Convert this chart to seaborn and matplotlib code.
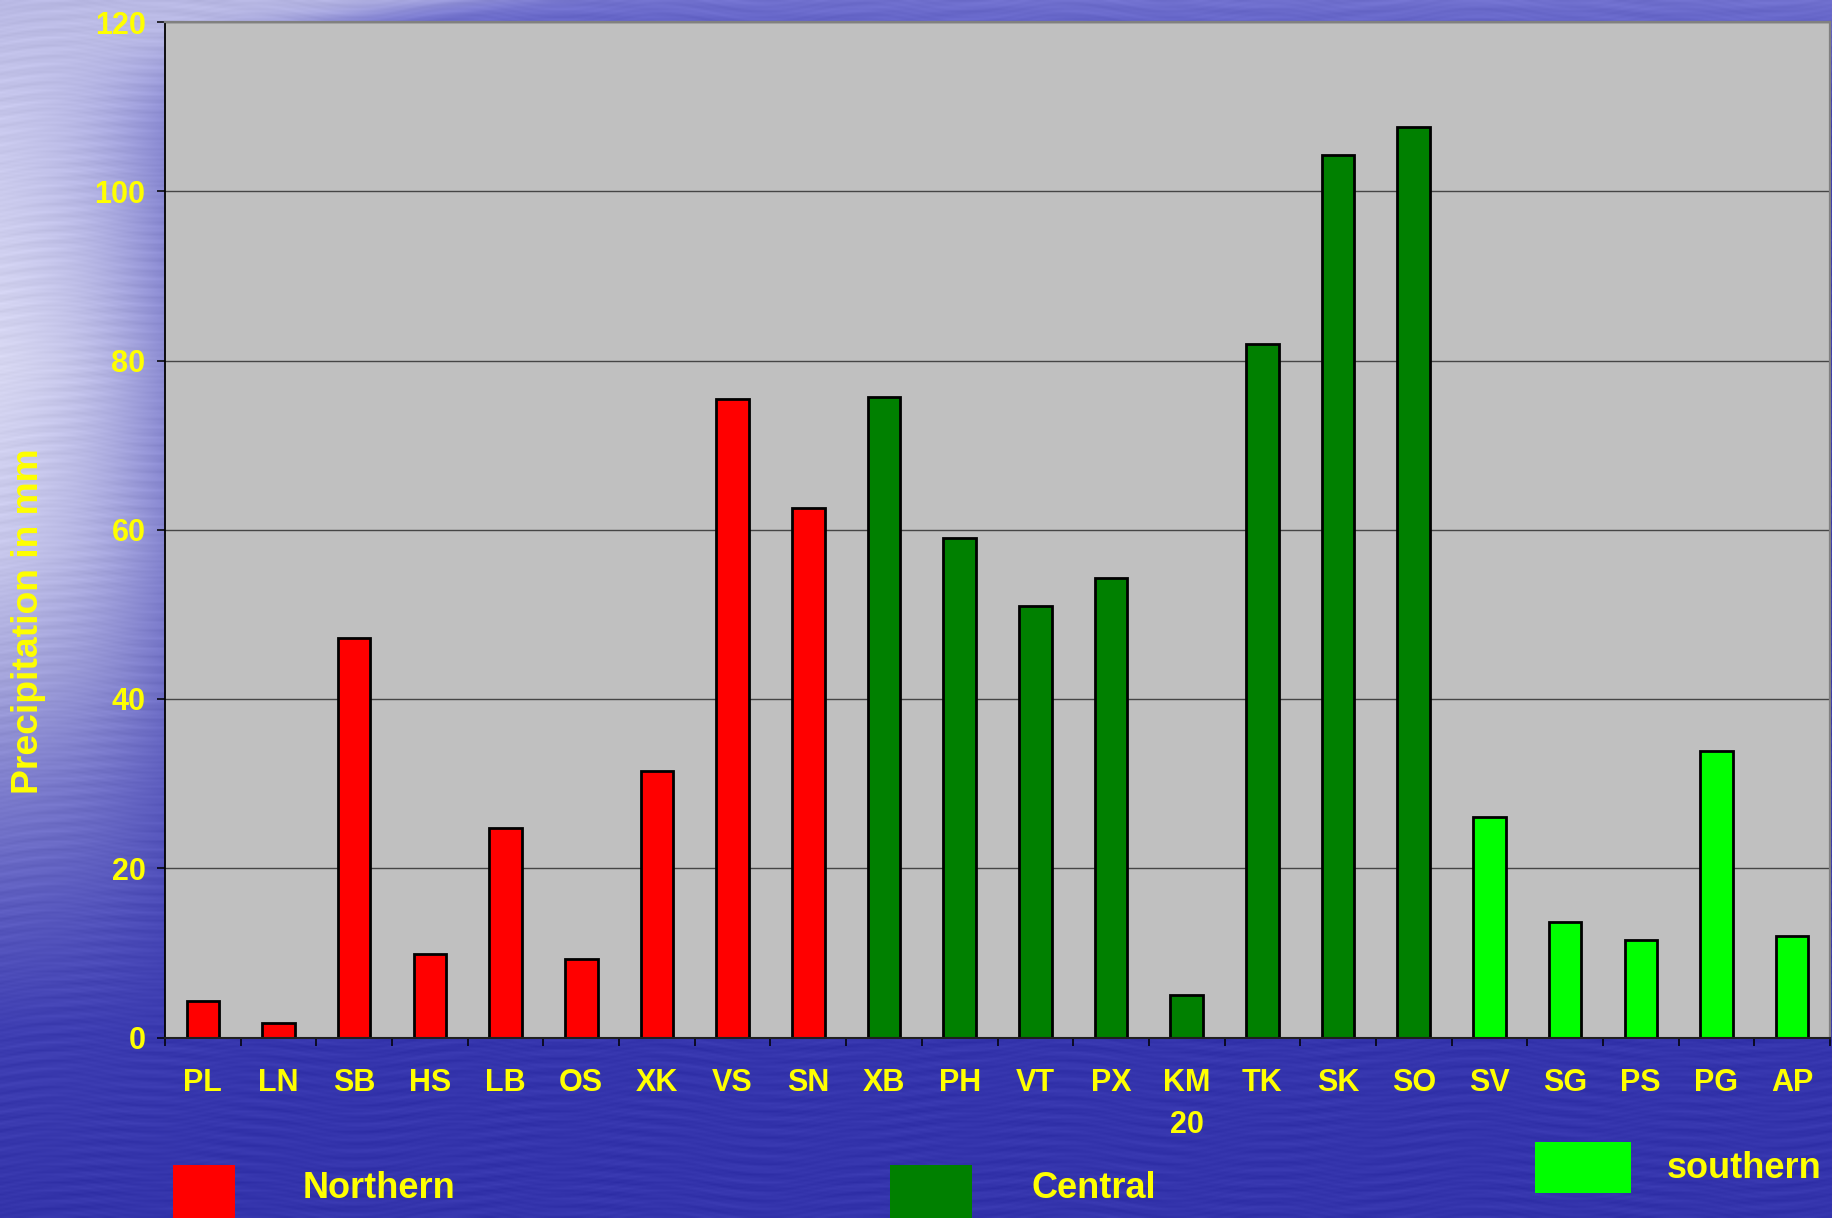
import numpy as np
import pandas as pd
import matplotlib
matplotlib.use("Agg")
import matplotlib.pyplot as plt
import seaborn as sns
from matplotlib.patches import Rectangle

# Station codes, precipitation totals (mm) and the region each station belongs to
stations = ["PL", "LN", "SB", "HS", "LB", "OS", "XK", "VS", "SN",
            "XB", "PH", "VT", "PX", "KM\n20", "TK", "SK", "SO",
            "SV", "SG", "PS", "PG", "AP"]
precip = [4.3, 1.7, 47.2, 9.9, 24.7, 9.3, 31.5, 75.4, 62.6,
          75.7, 59.0, 51.0, 54.3, 5.0, 82.0, 104.3, 107.6,
          26.1, 13.7, 11.5, 33.8, 12.0]
regions = ["Northern"] * 9 + ["Central"] * 8 + ["southern"] * 5
region_order = ["Northern", "Central", "southern"]
region_colors = {"Northern": "#FF0000", "Central": "#008000", "southern": "#00FF00"}
y_ticks = [0, 20, 40, 60, 80, 100, 120]

df = pd.DataFrame({"station": stations, "precip": precip, "region": regions})

sns.set_style("white")
plt.rcParams["font.family"] = ["Liberation Sans", "DejaVu Sans"]

W, H = 1832, 1218
fig = plt.figure(figsize=(W / 100, H / 100), dpi=100)

# Blue slide backdrop: pale haze down the left edge, lavender band at the top,
# deep blue below, with faint horizontal ripples
ny, nx = 600, 900
yy, xx = np.mgrid[0:1:ny * 1j, 0:1:nx * 1j]
y_pts = [0.0, 0.1, 0.3, 0.45, 0.55, 0.65, 0.75, 0.85, 1.0]
left_lvl = [[185, 185, 228], [205, 205, 238], [222, 222, 244], [206, 206, 238],
            [172, 172, 222], [128, 128, 206], [92, 92, 192], [62, 62, 178], [52, 52, 170]]
right_pts = [0.0, 0.03, 0.1, 1.0]
right_lvl = [[112, 112, 206], [92, 92, 196], [58, 58, 178], [52, 52, 172]]
ycol = yy[:, 0]
left_col = np.stack([np.interp(ycol, y_pts, [c[k] for c in left_lvl]) for k in range(3)], -1)
right_col = np.stack([np.interp(ycol, right_pts, [c[k] for c in right_lvl]) for k in range(3)], -1)
edge = 0.09 + 0.16 * np.exp(-yy / 0.03)
w = 1 / (1 + np.exp((xx - edge) / 0.03))
img = right_col[:, None, :] * (1 - w[..., None]) + left_col[:, None, :] * w[..., None]
ripple = (np.sin(2 * np.pi * (yy * 95 + 0.6 * np.sin(2 * np.pi * xx * 4.0)))
          * np.sin(2 * np.pi * (xx * 7 + yy * 3)) * 5
          + np.sin(2 * np.pi * (yy * 230 + 1.3 * np.sin(2 * np.pi * xx * 9))) * 3)
img = np.clip(img + ripple[..., None], 0, 255) / 255
bg = fig.add_axes([0, 0, 1, 1], zorder=0)
bg.imshow(img, aspect="auto", extent=[0, 1, 0, 1], interpolation="bilinear")
bg.axis("off")

# Plot area
left, right, top_px, bottom_px = 165, 1830, 22, 1037.5
ax = fig.add_axes([left / W, 1 - bottom_px / H, (right - left) / W, (bottom_px - top_px) / H],
                  zorder=1)
ax.set_facecolor("#C0C0C0")

sns.barplot(data=df, x="station", y="precip", hue="region", hue_order=region_order,
            palette=region_colors, dodge=False, width=0.43, saturation=1,
            edgecolor="black", linewidth=2.0, legend=False, ax=ax)

ax.set_xlim(-0.5, len(stations) - 0.5)
ax.set_ylim(0, 120)
ax.set_yticks(y_ticks)
ax.set_xlabel("")
ax.set_ylabel("")
ax.set_axisbelow(True)
ax.yaxis.grid(True, color="#454545", linewidth=1.0)
ax.xaxis.grid(False)

for side in ("top", "right"):
    ax.spines[side].set_color("#808080")
    ax.spines[side].set_linewidth(1.6)
ax.spines["left"].set_color("black")
ax.spines["left"].set_linewidth(1.3)
ax.spines["bottom"].set_color("#202020")
ax.spines["bottom"].set_linewidth(1.5)

# Category boundary ticks below the axis; labels at category centres
ax.set_xticks(np.arange(-0.5, len(stations), 1.0), minor=True)
ax.tick_params(axis="x", which="minor", length=6, width=1.1, color="black", direction="out",
               bottom=True)
ax.tick_params(axis="x", which="major", length=0, pad=22, labelsize=22, labelcolor="#FFFF00")
ax.tick_params(axis="y", which="major", length=6, width=1.1, color="black", direction="out",
               left=True, pad=8, labelsize=22, labelcolor="#FFFF00")
for lab in ax.get_xticklabels():
    lab.set_fontweight("bold")
    lab.set_linespacing(1.5)
for lab in ax.get_yticklabels():
    lab.set_fontweight("bold")

fig.text(29 / W, 1 - 621.6 / H, "Precipitation in mm", rotation=90, ha="center",
         va="center", color="#FFFF00", fontsize=26.8, fontweight="bold")

# Region key along the bottom
key = [("Northern", 173, 62, 1165, 1218, 302.6, 1188),
       ("Central", 890, 82, 1165, 1218, 1031.7, 1188),
       ("southern", 1535, 96, 1141.5, 1193, 1667, 1168)]
for name, x0, wpx, y_top, y_bot, tx, ty in key:
    fig.patches.append(Rectangle((x0 / W, 1 - y_bot / H), wpx / W, (y_bot - y_top) / H,
                                 transform=fig.transFigure, facecolor=region_colors[name],
                                 edgecolor="none", zorder=2))
    fig.text(tx / W, 1 - ty / H, name, ha="left", va="center", color="#FFFF00",
             fontsize=26, fontweight="bold", zorder=3)

fig.savefig("out.png", dpi=100)
